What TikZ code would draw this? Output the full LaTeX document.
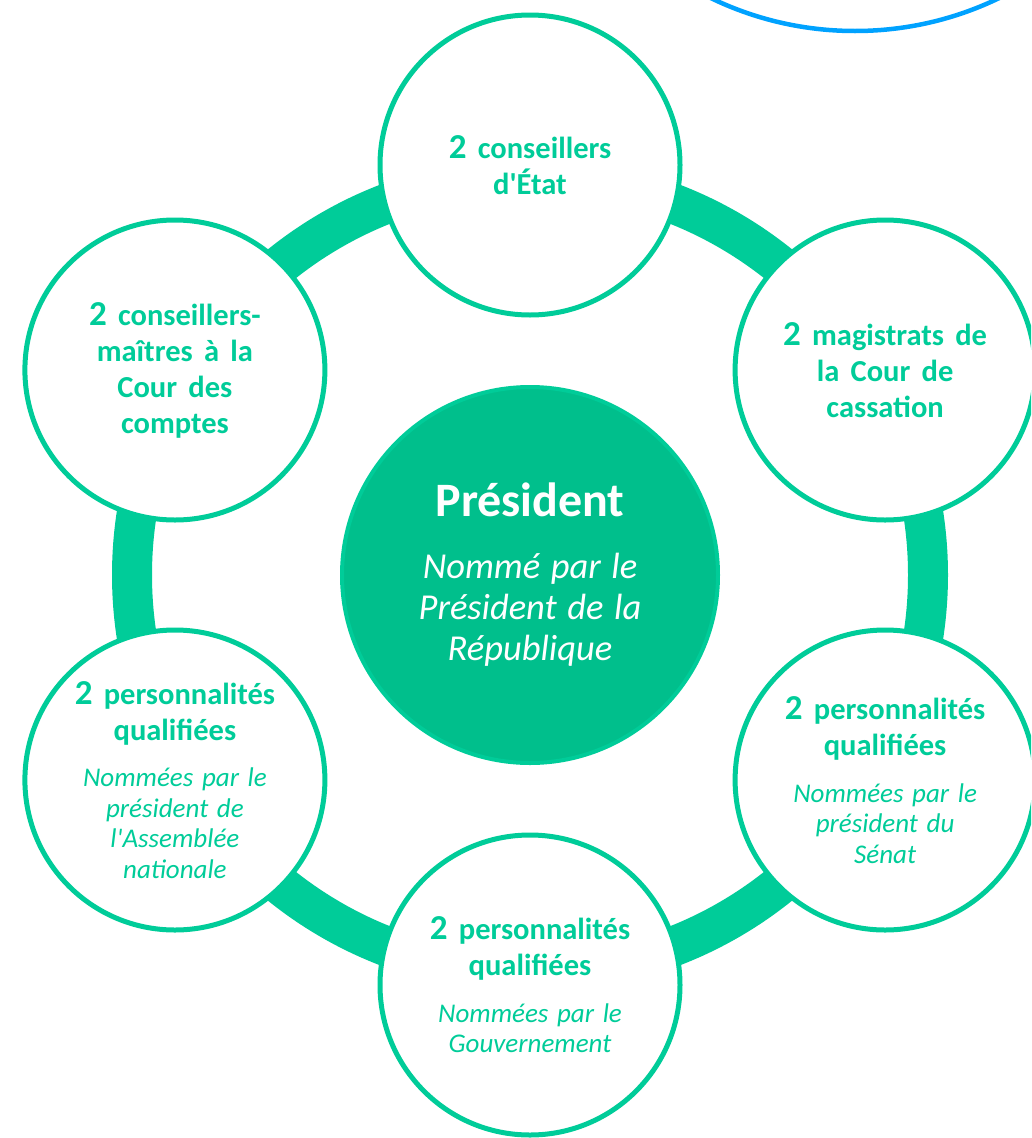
\documentclass[tikz,border=0pt]{standalone}
\usepackage{fontspec}
\setmainfont{Carlito}[Ligatures=TeXOff]
\definecolor{ringgreen}{HTML}{00CC99}
\definecolor{corefill}{HTML}{00BF8C}
\definecolor{skyblue}{HTML}{00A2FF}
% type sizes, with wider word spacing
\newcommand\wordgap[1]{\spaceskip=#1em\relax\xspaceskip=#1em\relax}
\newcommand\numtwo{{\fontsize{35}{36}\selectfont 2}}
\newcommand\headfont{\fontsize{30.5}{36}\selectfont\bfseries\wordgap{0.37}}
\newcommand\notefont{\fontsize{27}{30.5}\selectfont\itshape\wordgap{0.32}}
\newcommand\corehead{\fontsize{48}{50}\selectfont\bfseries\wordgap{0.4}}
\newcommand\corenote{\fontsize{36.5}{41}\selectfont\itshape\wordgap{0.29}}
\tikzset{
  member/.style={circle, draw=ringgreen, line width=5pt, fill=white,
    minimum size=300pt, inner sep=0pt},
  membertext/.style={text=ringgreen, text width=280pt, align=center, inner sep=0pt},
  core/.style={circle, draw=ringgreen, line width=4pt, fill=corefill,
    minimum size=376pt, inner sep=0pt},
  coretext/.style={text=white, text width=330pt, align=center, inner sep=0pt},
  band/.style={draw=ringgreen, line width=40pt},
}
\begin{document}
\begin{tikzpicture}[x=1pt, y=-1pt]
  \useasboundingbox (0,0) rectangle (1031,1138);
  \clip (0,0) rectangle (1031,1138);

  % partial blue circle at the top edge
  \draw[skyblue, line width=4.5pt] (855,-300) circle[radius=331pt];

  % central circle position and surrounding band
  \coordinate (mid) at (530,575);
  \draw[band] (mid) circle[radius=398pt];

  % member circles
  \node[member] (etat)    at (530,165)   {};
  \node[member] (cass)    at (885.1,370) {};
  \node[member] (senat)   at (885.1,780) {};
  \node[member] (gouv)    at (530,985)   {};
  \node[member] (an)      at (174.9,780) {};
  \node[member] (comptes) at (174.9,370) {};

  % president
  \node[core] (pres) at (mid) {};

  % texts
  \node[membertext] (etat-t) at (etat)
    {{\headfont\numtwo\ conseillers\\d'État\par}};
  \node[membertext] (cass-t) at (cass)
    {{\headfont\numtwo\ magistrats de\\la Cour de\\cassation\par}};
  \node[membertext] (comptes-t) at (comptes)
    {{\headfont\numtwo\ conseillers-\\maîtres à la\\Cour des\\comptes\par}};
  \node[membertext] (senat-t) at (senat)
    {{\headfont\numtwo\ personnalités\\qualifiées\par}\vspace{16pt}%
     {\notefont Nommées par le\\président du\\Sénat\par}};
  \node[membertext] (gouv-t) at (gouv)
    {{\headfont\numtwo\ personnalités\\qualifiées\par}\vspace{16pt}%
     {\notefont Nommées par le\\Gouvernement\par}};
  \node[membertext] (an-t) at (an)
    {{\headfont\numtwo\ personnalités\\qualifiées\par}\vspace{16pt}%
     {\notefont Nommées par le\\président de\\l'Assemblée\\nationale\par}};
  \node[coretext] (pres-t) at (pres)
    {{\corehead Président\par}\vspace{21pt}%
     {\corenote Nommé par le\\Président de la\\République\par}};
\end{tikzpicture}
\end{document}
